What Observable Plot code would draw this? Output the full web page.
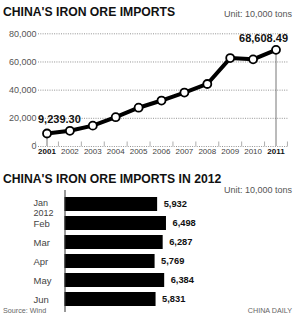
<!DOCTYPE html>
<html>
<head>
<meta charset="utf-8">
<script src="https://cdn.jsdelivr.net/npm/d3@7"></script>
<script src="https://cdn.jsdelivr.net/npm/@observablehq/plot@0.6"></script>
<style>
  html, body { margin: 0; padding: 0; background: #fff; }
  #wrap { position: relative; width: 300px; height: 319px; overflow: hidden; font-family: "Liberation Sans", Arial, sans-serif; }
  .t { position: absolute; line-height: 1; white-space: nowrap; }
  .title { font-weight: bold; font-size: 12.2px; color: #111; left: 3px; }
  .unit { font-size: 9px; color: #555; right: 8px; }
  .foot { font-size: 7.2px; color: #666; }
  .plot { position: absolute; left: 0; }
</style>
</head>
<body>
<div id="wrap">
  <div class="t title" style="top:5.7px">CHINA'S IRON ORE IMPORTS</div>
  <div class="t unit" style="top:10.4px">Unit: 10,000 tons</div>
  <div class="plot" id="topChart" style="top:20px"></div>
  <div class="t title" style="top:172.7px">CHINA'S IRON ORE IMPORTS IN 2012</div>
  <div class="t unit" style="top:186.4px">Unit: 10,000 tons</div>
  <div class="plot" id="bottomChart" style="top:186px"></div>
  <div class="t foot" style="top:307.4px; left:3px">Source: Wind</div>
  <div class="t foot" style="top:307.4px; right:8px">CHINA DAILY</div>
</div>
<script>
// ---- data ----
const years = [2001, 2002, 2003, 2004, 2005, 2006, 2007, 2008, 2009, 2010, 2011];
const imports = [9239.30, 11150, 14810, 20810, 27530, 32630, 38310, 44370, 62780, 61860, 68608.49];
const yTicks = [0, 20000, 40000, 60000, 80000];
const months = ["Jan", "Feb", "Mar", "Apr", "May", "Jun"];
const monthLabels = ["Jan\n2012", "Feb", "Mar", "Apr", "May", "Jun"];
const monthly = [5932, 6498, 6287, 5769, 6384, 5831];

const FONT = '"Liberation Sans", Arial, sans-serif';
const annual = years.map((y, i) => ({year: y, value: imports[i]}));
const ends = [annual[0], annual[annual.length - 1]];
const mids = years.slice(0, -1).map(y => y + 0.5).concat([2000.5, 2011.5]);
const fmt2 = d3.format(",.2f");

const topPlot = Plot.plot({
  width: 300,
  height: 140,
  marginLeft: 38,
  marginRight: 12,
  marginTop: 13,
  marginBottom: 14,
  style: {fontFamily: FONT, background: "none", overflow: "visible"},
  x: {type: "linear", domain: [2001, 2011], range: [46.5, 275.5], axis: null},
  y: {domain: [0, 80000], range: [126, 13.3], axis: null},
  marks: [
    Plot.ruleY(yTicks, {stroke: "#777", strokeWidth: 0.8, strokeDasharray: "1,1.3"}),
    Plot.axisY(yTicks, {anchor: "left", tickSize: 0, tickPadding: 2, tickFormat: d3.format(","), fontSize: 9, color: "#555", label: null}),
    Plot.ruleX(mids, {x: d => d, y1: 0, y2: 3200, stroke: "#999", strokeWidth: 0.8}),
    Plot.ruleX(ends, {x: "year", y1: 0, y2: "value", stroke: "#666", strokeWidth: 0.9}),
    Plot.line(annual, {x: "year", y: "value", stroke: "#000", strokeWidth: 4, strokeLinejoin: "round"}),
    Plot.dot(annual, {x: "year", y: "value", r: 4, fill: "#fff", stroke: "#000", strokeWidth: 1.8}),
    Plot.text(years.slice(1, -1), {x: d => d, y: 0, text: d => String(d), dy: 5, lineAnchor: "middle", fontSize: 8, fill: "#444"}),
    Plot.text([years[0], years[years.length - 1]], {x: d => d, y: 0, text: d => String(d), dy: 5, lineAnchor: "middle", fontSize: 8, fontWeight: "bold", fill: "#111"}),
    Plot.text([ends[0]], {x: "year", y: "value", text: d => fmt2(d.value), textAnchor: "start", lineAnchor: "bottom", dx: -9, dy: -10, fontSize: 11, fontWeight: "bold", fill: "#111"}),
    Plot.text([ends[1]], {x: "year", y: "value", text: d => fmt2(d.value), textAnchor: "end", lineAnchor: "bottom", dx: 12, dy: -8, fontSize: 11, fontWeight: "bold", fill: "#111"})
  ]
});
document.getElementById("topChart").appendChild(topPlot);

const monthData = months.map((m, i) => ({month: m, label: monthLabels[i], value: monthly[i]}));

const bottomPlot = Plot.plot({
  width: 300,
  height: 130,
  marginLeft: 33,
  marginRight: 10,
  marginTop: 4,
  marginBottom: 4,
  style: {fontFamily: FONT, background: "none", overflow: "visible"},
  x: {type: "linear", domain: [0, 6500], range: [64.5, 166], axis: null},
  y: {type: "band", domain: months, range: [5.5, 125], paddingInner: 0.27, paddingOuter: 0.135, axis: null},
  marks: [
    Plot.barX(monthData, {x: "value", y: "month", fill: "#000"}),
    Plot.ruleX([0], {stroke: "#333", strokeWidth: 1}),
    Plot.text(monthData, {x: "value", y: "month", text: d => d3.format(",")(d.value), textAnchor: "start", dx: 6, fontSize: 9.3, fontWeight: "bold", fill: "#111"}),
    Plot.text(monthData.slice(0, 1), {y: "month", text: "label", frameAnchor: "left", textAnchor: "start", lineAnchor: "middle", lineHeight: 1.12, dy: 3.5, fontSize: 9, fill: "#444"}),
    Plot.text(monthData.slice(1), {y: "month", text: "label", frameAnchor: "left", textAnchor: "start", lineAnchor: "middle", fontSize: 9.5, fill: "#444"})
  ]
});
document.getElementById("bottomChart").appendChild(bottomPlot);
</script>
</body>
</html>
